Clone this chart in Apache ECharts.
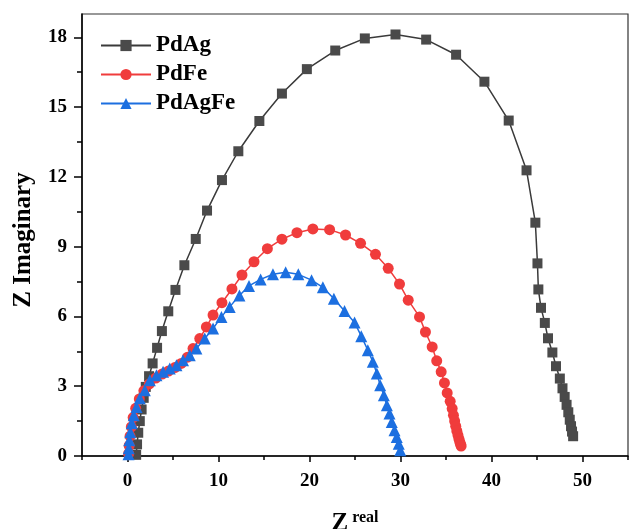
<!DOCTYPE html>
<html>
<head>
<meta charset="utf-8">
<script src="https://cdn.jsdelivr.net/npm/echarts@6/dist/echarts.min.js"></script>
<style>html,body{margin:0;padding:0;background:#fff}#c{width:629px;height:529px}</style>
</head>
<body>
<div id="c"></div>
<script>
const seriesNames = ['PdAg', 'PdFe', 'PdAgFe'];
const xTickLabels = [0, 10, 20, 30, 40, 50];
const xMinorTicks = [-5, 5, 15, 25, 35, 45, 55];
const yTickLabels = [0, 3, 6, 9, 12, 15, 18];
const yMinorTicks = [1.5, 4.5, 7.5, 10.5, 13.5, 16.5];

const pdAgX = [0.95,1.05,1.18,1.35,1.55,1.78,2.01,2.37,2.76,3.25,3.78,4.48,5.27,6.25,7.50,8.74,10.38,12.18,14.49,16.97,19.71,22.83,26.08,29.45,32.82,36.11,39.22,41.89,43.85,44.82,45.05,45.15,45.44,45.86,46.21,46.69,47.09,47.51,47.80,48.04,48.25,48.44,48.60,48.74,48.85,48.97];
const pdAgY = [0.05,0.5,1.0,1.5,2.0,2.5,2.97,3.43,3.98,4.65,5.37,6.22,7.14,8.20,9.33,10.55,11.86,13.10,14.40,15.58,16.63,17.43,17.95,18.12,17.90,17.25,16.09,14.42,12.28,10.03,8.28,7.16,6.37,5.72,5.06,4.45,3.86,3.33,2.91,2.54,2.2,1.88,1.56,1.28,1.05,0.85];

const pdFeX = [0.12,0.18,0.28,0.42,0.62,0.9,1.3,1.8,2.4,3.1,3.8,4.5,5.2,5.9,6.6,7.2,7.94,8.67,9.40,10.38,11.48,12.58,13.90,15.37,16.97,18.62,20.37,22.21,23.96,25.61,27.25,28.65,29.89,30.85,32.09,32.74,33.48,33.98,34.47,34.83,35.13,35.46,35.68,35.82,35.95,36.07,36.19,36.31,36.42,36.52,36.6,36.66];
const pdFeY = [0.1,0.45,0.85,1.25,1.65,2.05,2.45,2.8,3.1,3.35,3.52,3.65,3.8,3.98,4.25,4.62,5.05,5.55,6.06,6.59,7.18,7.78,8.35,8.91,9.32,9.60,9.76,9.73,9.50,9.14,8.67,8.07,7.39,6.70,5.98,5.33,4.69,4.09,3.62,3.14,2.71,2.35,2.04,1.75,1.5,1.28,1.08,0.9,0.74,0.6,0.5,0.43];

const pdAgFeX = [0.11,0.14,0.2,0.31,0.47,0.69,0.99,1.35,1.90,2.45,3.18,3.91,4.64,5.38,6.10,6.84,7.57,8.49,9.40,10.32,11.23,12.30,13.35,14.63,15.98,17.38,18.77,20.23,21.47,22.68,23.85,24.95,25.69,26.41,26.96,27.40,27.77,28.17,28.50,28.79,29.04,29.34,29.59,29.81,29.97];
const pdAgFeY = [0.07,0.33,0.68,1.02,1.41,1.75,2.11,2.48,2.83,3.26,3.47,3.62,3.76,3.90,4.12,4.33,4.62,5.05,5.48,5.98,6.41,6.90,7.31,7.59,7.81,7.90,7.81,7.56,7.25,6.76,6.23,5.74,5.15,4.55,4.05,3.55,3.04,2.61,2.18,1.83,1.46,1.11,0.82,0.53,0.25];

const zip = (xs, ys) => xs.map((x, i) => [x, ys[i]]);
const FONT = "'Liberation Serif','Times New Roman',serif";
const chart = echarts.init(document.getElementById('c'), null, {renderer: 'canvas'});

const baseAxis = {
  splitLine: {show: false}
};

chart.setOption({
  animation: false,
  backgroundColor: '#fff',
  grid: {left: 82, right: 1, top: 14, bottom: 73, show: true, borderColor: '#333', borderWidth: 1.2,
         backgroundColor: 'transparent', containLabel: false, outerBoundsMode: 'none'},
  legend: {
    left: 100, top: 34, orient: 'vertical', padding: 0,
    itemWidth: 50, itemHeight: 14, itemGap: 6,
    textStyle: {fontFamily: FONT, fontWeight: 'bold', fontSize: 23, color: '#000', lineHeight: 23},
    data: seriesNames
  },
  xAxis: [{
    ...baseAxis, type: 'value', min: -5, max: 55,
    axisLine: {show: true, onZero: false, lineStyle: {color: '#000', width: 1.5}},
    axisTick: {show: true, inside: false, length: 6, lineStyle: {color: '#000', width: 1.5}, customValues: xTickLabels},
    axisLabel: {customValues: xTickLabels, margin: 16, fontFamily: FONT, fontWeight: 'bold', fontSize: 19, color: '#000'},
    name: '{z|Z}{s| real}', nameLocation: 'middle', nameGap: 54,
    nameTextStyle: {rich: {
      z: {fontFamily: FONT, fontWeight: 'bold', fontSize: 25, color: '#000', lineHeight: 28},
      s: {fontFamily: FONT, fontWeight: 'bold', fontSize: 16, color: '#000', lineHeight: 28, verticalAlign: 'top', padding: [0,0,14,0]}
    }}
  }, {
    ...baseAxis, type: 'value', min: -5, max: 55, position: 'bottom',
    axisLine: {show: false, onZero: false},
    axisTick: {show: true, length: 4, lineStyle: {color: '#000', width: 1.5}, customValues: xMinorTicks},
    axisLabel: {show: false}
  }],
  yAxis: [{
    ...baseAxis, type: 'value', min: 0, max: 19,
    axisLine: {show: true, onZero: false, lineStyle: {color: '#000', width: 1.5}},
    axisTick: {show: true, length: 8, lineStyle: {color: '#000', width: 1.5}, customValues: yTickLabels},
    axisLabel: {customValues: yTickLabels, margin: 15, fontFamily: FONT, fontWeight: 'bold', fontSize: 19, color: '#000'},
    name: 'Z Imaginary', nameLocation: 'middle', nameRotate: 90, nameGap: 46,
    nameTextStyle: {fontFamily: FONT, fontWeight: 'bold', fontSize: 25, color: '#000', padding: [0, 10, 0, 0]}
  }, {
    ...baseAxis, type: 'value', min: 0, max: 19, position: 'left',
    axisLine: {show: false, onZero: false},
    axisTick: {show: true, length: 5, lineStyle: {color: '#000', width: 1.5}, customValues: yMinorTicks},
    axisLabel: {show: false}
  }],
  series: [
    {name: seriesNames[0], type: 'line', data: zip(pdAgX, pdAgY), symbol: 'rect', symbolSize: 10,
     itemStyle: {color: '#4a4a4a'}, lineStyle: {color: '#3a3a3a', width: 1.5}},
    {name: seriesNames[1], type: 'line', data: zip(pdFeX, pdFeY), symbol: 'circle', symbolSize: 11,
     itemStyle: {color: '#f03c3c'}, lineStyle: {color: '#f03c3c', width: 1.5}},
    {name: seriesNames[2], type: 'line', data: zip(pdAgFeX, pdAgFeY), symbol: 'triangle', symbolSize: 12,
     itemStyle: {color: '#1c6fe0'}, lineStyle: {color: '#1c6fe0', width: 1.5}}
  ]
});
</script>
</body>
</html>
